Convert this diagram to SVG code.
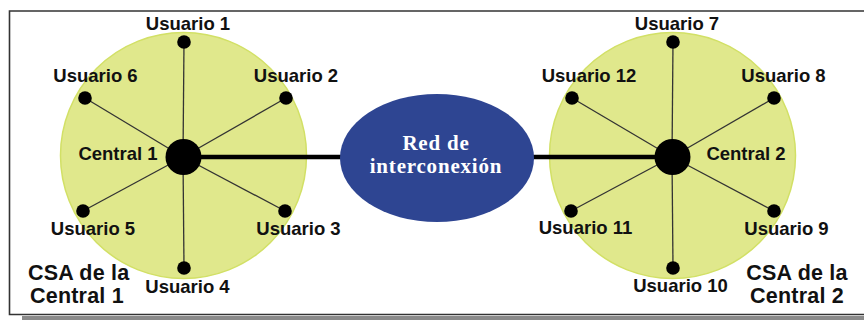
<svg xmlns="http://www.w3.org/2000/svg" width="864" height="320" viewBox="0 0 864 320">
<style>
.area{fill:#e0e88c;stroke:#d2e066;stroke-width:1.5}
.spoke{stroke:#333;stroke-width:1.3}
.trunk{stroke:#000;stroke-width:4.5}
.dot{fill:#000}
.lbl{font-family:"Liberation Sans",Arial,sans-serif;font-weight:bold;font-size:18.5px;fill:#111;text-anchor:middle}
.csa{font-family:"Liberation Sans",Arial,sans-serif;font-weight:bold;font-size:21.5px;fill:#111;letter-spacing:0.2px}
.net{font-family:"Liberation Serif","Times New Roman",serif;font-weight:bold;font-size:21px;fill:#fff;text-anchor:middle;letter-spacing:0.8px}
</style>
<rect x="0" y="0" width="864" height="320" fill="#fff"/>
<rect x="22" y="316" width="842" height="4" fill="#8a8a8a"/>
<path d="M864 11 H9.5 V314.5 H864" fill="none" stroke="#333" stroke-width="1.6"/>

<g id="csa1">
<circle class="area" cx="183.5" cy="155.5" r="123"/>
<text class="csa" x="28" y="280">CSA de la</text>
<text class="csa" x="30" y="303">Central 1</text>
</g>
<g id="csa2">
<circle class="area" cx="672.5" cy="155.5" r="123"/>
<text class="csa" x="797" y="280" text-anchor="middle">CSA de la</text>
<text class="csa" x="797" y="303" text-anchor="middle">Central 2</text>
</g>

<g id="connectors">
<line class="trunk" x1="183" y1="157" x2="672" y2="157"/>
<line class="spoke" x1="183" y1="157" x2="184" y2="42"/>
<line class="spoke" x1="183" y1="157" x2="85" y2="98"/>
<line class="spoke" x1="183" y1="157" x2="286" y2="98"/>
<line class="spoke" x1="183" y1="157" x2="83" y2="211"/>
<line class="spoke" x1="183" y1="157" x2="285" y2="211"/>
<line class="spoke" x1="183" y1="157" x2="184" y2="268"/>
<line class="spoke" x1="672" y1="157" x2="673" y2="42"/>
<line class="spoke" x1="672" y1="157" x2="572" y2="98"/>
<line class="spoke" x1="672" y1="157" x2="774" y2="98"/>
<line class="spoke" x1="672" y1="157" x2="571" y2="211"/>
<line class="spoke" x1="672" y1="157" x2="774" y2="211"/>
<line class="spoke" x1="672" y1="157" x2="673" y2="268"/>
</g>

<g id="red">
<ellipse cx="437" cy="158" rx="97" ry="64" fill="#2e4592"/>
<text class="net" x="436" y="150">Red de</text>
<text class="net" x="436" y="173">interconexión</text>
</g>

<g id="central1"><circle class="dot" cx="183.5" cy="157" r="18"/><text class="lbl" x="118" y="160">Central 1</text></g>
<g id="central2"><circle class="dot" cx="672.5" cy="157" r="18"/><text class="lbl" x="746" y="160">Central 2</text></g>

<g id="u1"><circle class="dot" cx="184" cy="42" r="6.8"/><text class="lbl" x="188" y="30">Usuario 1</text></g>
<g id="u2"><circle class="dot" cx="286" cy="98" r="6.8"/><text class="lbl" x="296" y="82">Usuario 2</text></g>
<g id="u3"><circle class="dot" cx="285" cy="211" r="6.8"/><text class="lbl" x="298.5" y="235">Usuario 3</text></g>
<g id="u4"><circle class="dot" cx="184" cy="268" r="6.8"/><text class="lbl" x="187.5" y="292.5">Usuario 4</text></g>
<g id="u5"><circle class="dot" cx="83" cy="211" r="6.8"/><text class="lbl" x="93" y="235">Usuario 5</text></g>
<g id="u6"><circle class="dot" cx="85" cy="98" r="6.8"/><text class="lbl" x="95.5" y="82">Usuario 6</text></g>
<g id="u7"><circle class="dot" cx="673" cy="42" r="6.8"/><text class="lbl" x="677" y="30">Usuario 7</text></g>
<g id="u8"><circle class="dot" cx="774" cy="98" r="6.8"/><text class="lbl" x="783.5" y="82">Usuario 8</text></g>
<g id="u9"><circle class="dot" cx="774" cy="211" r="6.8"/><text class="lbl" x="786.5" y="235">Usuario 9</text></g>
<g id="u10"><circle class="dot" cx="673" cy="268" r="6.8"/><text class="lbl" x="680.5" y="292">Usuario 10</text></g>
<g id="u11"><circle class="dot" cx="571" cy="211" r="6.8"/><text class="lbl" x="585.5" y="234">Usuario 11</text></g>
<g id="u12"><circle class="dot" cx="572" cy="98" r="6.8"/><text class="lbl" x="589" y="82">Usuario 12</text></g>
</svg>
